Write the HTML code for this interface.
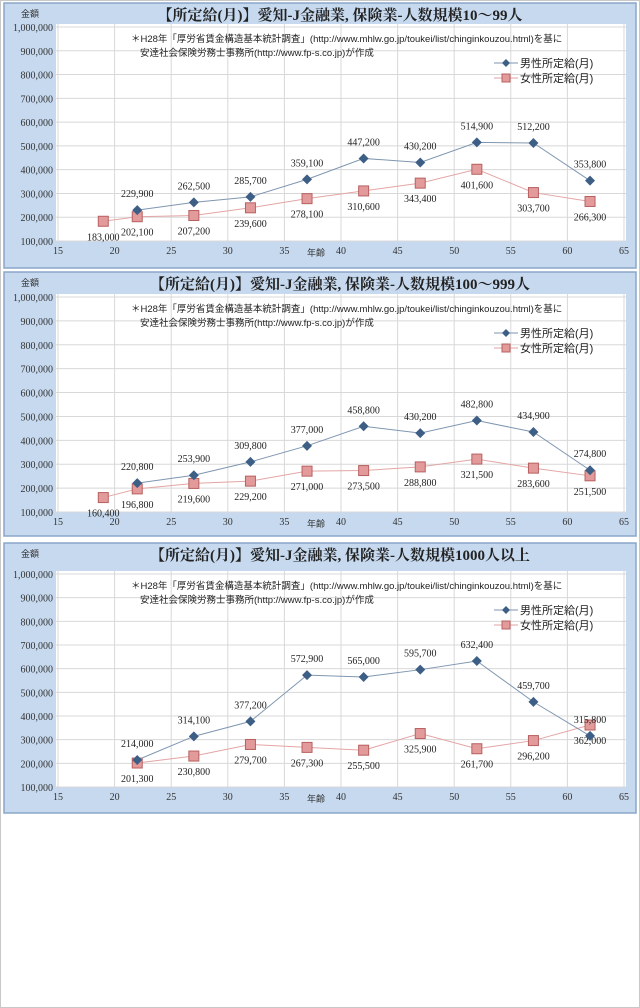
<!DOCTYPE html>
<html><head><meta charset="utf-8">
<style>
html,body{margin:0;padding:0;background:#fff;}
body{width:640px;height:1008px;position:relative;overflow:hidden;font-family:"Liberation Serif","Noto Serif CJK SC",serif;}
#frame{position:absolute;left:0;top:0;width:638px;height:1006px;border:1px solid #c8c8c8;}
svg{position:absolute;left:0;}
</style></head>
<body>
<div id="frame"></div>
<svg id="c1" width="640" height="270" style="top:0"></svg>
<svg id="c2" width="640" height="270" style="top:270px"></svg>
<svg id="c3" width="640" height="275" style="top:540px"></svg>
<script>
const xTicks=[15,20,25,30,35,40,45,50,55,60,65];
const yTicks=[100000,200000,300000,400000,500000,600000,700000,800000,900000,1000000];
const titles=["【所定給(月)】愛知-J金融業, 保険業-人数規模10～99人","【所定給(月)】愛知-J金融業, 保険業-人数規模100～999人","【所定給(月)】愛知-J金融業, 保険業-人数規模1000人以上"];
const maleAges=[22,27,32,37,42,47,52,57,62];
const maleC1=[229900,262500,285700,359100,447200,430200,514900,512200,353800];
const femaleAgesC1=[19,22,27,32,37,42,47,52,57,62];
const femaleC1=[183000,202100,207200,239600,278100,310600,343400,401600,303700,266300];
const maleC2=[220800,253900,309800,377000,458800,430200,482800,434900,274800];
const femaleAgesC2=[19,22,27,32,37,42,47,52,57,62];
const femaleC2=[160400,196800,219600,229200,271000,273500,288800,321500,283600,251500];
const maleC3=[214000,314100,377200,572900,565000,595700,632400,459700,315800];
const femaleAgesC3=[22,27,32,37,42,47,52,57,62];
const femaleC3=[201300,230800,279700,267300,255500,325900,261700,296200,362000];

const NS="http://www.w3.org/2000/svg";
function mk(p,tag,attrs,txt){const e=document.createElementNS(NS,tag);for(const k in attrs)e.setAttribute(k,attrs[k]);if(txt!=null)e.textContent=txt;p.appendChild(e);return e;}
function fmt(v){return v.toLocaleString('en-US');}

function draw(id,idx,panelTop,panelH,yTopPx,yBotPx,mAges,mVals,fAges,fVals){
  const s=document.getElementById(id);
  const L=58,R=624;
  const x=a=>L+(a-15)/(65-15)*(R-L);
  const y=v=>yBotPx+(v-100000)/(1000000-100000)*(yTopPx-yBotPx);
  const bg=mk(s,'rect',{x:4,y:panelTop,width:632,height:panelH,fill:'#c6d9ef',stroke:'#8aa6c8','stroke-width':1.5});
  
  
  const plot=mk(s,'rect',{x:56,y:yTopPx-3,width:570,height:yBotPx-yTopPx+3,fill:'#fff'});
  
  
  yTicks.forEach(t=>{
    const g=mk(s,'line',{x1:56,x2:626,y1:y(t),y2:y(t),stroke:'#d8d8d8','stroke-width':1});
    
    
    const tl=mk(s,'text',{x:53,y:y(t)+4,'text-anchor':'end','font-size':10,fill:'#333'},fmt(t));
    
    
  });
  xTicks.forEach(t=>{
    const g=mk(s,'line',{x1:x(t),x2:x(t),y1:yTopPx-3,y2:yBotPx,stroke:'#d8d8d8','stroke-width':1});
    
    
    const tl=mk(s,'text',{x:x(t),y:yBotPx+13,'text-anchor':'middle','font-size':10,fill:'#333'},String(t));
    
    
  });
  const xt=mk(s,'text',{x:316,y:yBotPx+15,'text-anchor':'middle','font-size':9,fill:'#333','font-family':'Noto Sans CJK JP, sans-serif'},'年齢');
  
  
  const yt=mk(s,'text',{x:30,y:panelTop+14,'text-anchor':'middle','font-size':9,fill:'#333','font-family':'Noto Sans CJK JP, sans-serif'},'金額');
  
  
  const tt=mk(s,'text',{x:340,y:panelTop+17,'text-anchor':'middle','font-size':15,'font-weight':'bold',fill:'#222','font-family':'Liberation Serif, Noto Serif CJK SC, serif'},titles[idx]);
  
  
  const n1=mk(s,'text',{x:131,y:yTopPx+15,'font-size':9.5,fill:'#222','font-family':'Liberation Sans, Noto Sans CJK JP, sans-serif'},'＊H28年「厚労省賃金構造基本統計調査」(http://www.mhlw.go.jp/toukei/list/chinginkouzou.html)を基に');
  
  
  const n2=mk(s,'text',{x:140,y:yTopPx+29,'font-size':9.5,fill:'#222','font-family':'Liberation Sans, Noto Sans CJK JP, sans-serif'},'安達社会保険労務士事務所(http://www.fp-s.co.jp)が作成');
  
  
  const ly1=yTopPx+36, ly2=yTopPx+51;
  mk(s,'line',{x1:494,x2:518,y1:ly1,y2:ly1,stroke:'#7f96b0','stroke-width':1});
  const lm=mk(s,'path',{d:`M506 ${ly1-4}L510 ${ly1}L506 ${ly1+4}L502 ${ly1}Z`,fill:'#3d5f86'});
  
  
  const lt1=mk(s,'text',{x:520,y:ly1+4,'font-size':11,fill:'#222','font-family':'Liberation Sans, Noto Sans CJK JP, sans-serif'},'男性所定給(月)');
  
  
  mk(s,'line',{x1:494,x2:518,y1:ly2,y2:ly2,stroke:'#e0a0a0','stroke-width':1});
  const lf=mk(s,'rect',{x:502,y:ly2-4,width:8,height:8,fill:'#e39a9a',stroke:'#b86060'});
  
  
  const lt2=mk(s,'text',{x:520,y:ly2+4,'font-size':11,fill:'#222','font-family':'Liberation Sans, Noto Sans CJK JP, sans-serif'},'女性所定給(月)');
  
  
  const fl=mk(s,'polyline',{points:fAges.map((a,i)=>x(a)+','+y(fVals[i])).join(' '),fill:'none',stroke:'#e3a5a5','stroke-width':1});
  
  
  fAges.forEach((a,i)=>{
    const r=mk(s,'rect',{x:x(a)-5,y:y(fVals[i])-5,width:10,height:10,fill:'#e39a9a',stroke:'#b86060'});
    
    
    const t=mk(s,'text',{x:x(a),y:y(fVals[i])+19,'text-anchor':'middle','font-size':10,fill:'#222'},fmt(fVals[i]));
    
    
  });
  const ml=mk(s,'polyline',{points:mAges.map((a,i)=>x(a)+','+y(mVals[i])).join(' '),fill:'none',stroke:'#7f96b0','stroke-width':1});
  
  
  mAges.forEach((a,i)=>{
    const px=x(a),py=y(mVals[i]);
    const m=mk(s,'path',{d:`M${px} ${py-5}L${px+5} ${py}L${px} ${py+5}L${px-5} ${py}Z`,fill:'#3d5f86'});
    
    
    const t=mk(s,'text',{x:px,y:py-13,'text-anchor':'middle','font-size':10,fill:'#222'},fmt(mVals[i]));
    
    
  });
}
draw('c1',0,3,265,27,241,maleAges,maleC1,femaleAgesC1,femaleC1);
draw('c2',1,2,264,27,242,maleAges,maleC2,femaleAgesC2,femaleC2);
draw('c3',2,3,270,34,247,maleAges,maleC3,femaleAgesC3,femaleC3);
</script>
</body></html>
